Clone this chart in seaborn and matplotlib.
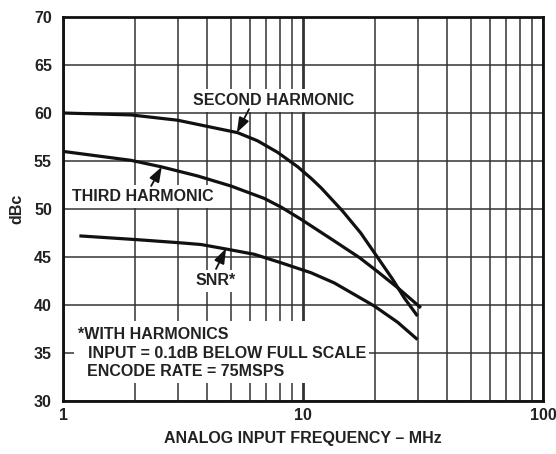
import matplotlib
matplotlib.use("Agg")
import matplotlib.pyplot as plt
import matplotlib.ticker as mticker
from matplotlib.patches import Rectangle
import seaborn as sns
import pandas as pd

# ---- data ----
second_freq = [1, 1.92, 3, 4, 5.34, 6.47, 7.84, 9.5, 10.8, 11.9, 14.6, 17.4, 20.4, 23.6, 26.4, 30]
second_dbc = [60.0, 59.8, 59.25, 58.6, 57.95, 57.1, 55.9, 54.4, 53.2, 52.2, 49.8, 47.5, 45.0, 42.7, 40.75, 38.85]

third_freq = [1, 1.92, 2.56, 3.64, 5.0, 6.9, 8.1, 9.81, 13.5, 17.2, 20.4, 24.8, 31]
third_dbc = [56.0, 55.07, 54.4, 53.44, 52.4, 51.1, 50.2, 48.93, 46.67, 44.93, 43.5, 41.8, 39.7]

snr_freq = [1.17, 2.05, 3, 3.76, 4.86, 6.27, 8.1, 10.8, 13.5, 19.8, 24.8, 30]
snr_dbc = [47.2, 46.8, 46.5, 46.3, 45.8, 45.28, 44.4, 43.36, 42.3, 39.9, 38.2, 36.4]

series_names = ["SECOND HARMONIC", "THIRD HARMONIC", "SNR*"]
x_ticks = [1, 10, 100]
x_ticklabels = ["1", "10", "100"]
y_ticks = [30, 35, 40, 45, 50, 55, 60, 65, 70]

df = pd.concat([
    pd.DataFrame({"freq": second_freq, "dbc": second_dbc, "series": series_names[0]}),
    pd.DataFrame({"freq": third_freq, "dbc": third_dbc, "series": series_names[1]}),
    pd.DataFrame({"freq": snr_freq, "dbc": snr_dbc, "series": series_names[2]}),
], ignore_index=True)

sns.set_style("white")
plt.rcParams["font.family"] = ["Liberation Sans", "DejaVu Sans"]
plt.rcParams["font.weight"] = "bold"

fig = plt.figure(figsize=(5.56, 4.54), dpi=100)
ax = fig.add_axes([63 / 556, 1 - 401 / 454, 480 / 556, 384 / 454])

sns.lineplot(data=df, x="freq", y="dbc", hue="series", units="series",
             estimator=None, sort=False, palette=["#111111"] * 3,
             linewidth=2.3, legend=False, ax=ax, zorder=5)
for ln in ax.lines:
    ln.set_solid_joinstyle("round")
    ln.set_solid_capstyle("butt")

ax.set_xscale("log")
ax.set_xlim(1, 100)
ax.set_ylim(30, 70)
ax.xaxis.set_major_locator(mticker.FixedLocator(x_ticks))
ax.xaxis.set_major_formatter(mticker.FixedFormatter(x_ticklabels))
ax.xaxis.set_minor_locator(mticker.LogLocator(base=10, subs=range(2, 10)))
ax.xaxis.set_minor_formatter(mticker.NullFormatter())
ax.set_yticks(y_ticks)

grid_c = "#333333"
ax.xaxis.grid(True, which="major", color=grid_c, lw=2.0)
ax.xaxis.grid(True, which="minor", color=grid_c, lw=1.1)
ax.yaxis.grid(True, which="major", color=grid_c, lw=1.1)
ax.set_axisbelow(True)

for s in ax.spines.values():
    s.set_color("#111111")
    s.set_linewidth(2.0)
    s.set_zorder(6)

ax.tick_params(axis="both", which="both", length=0, labelsize=11.5, colors="#222222")
ax.tick_params(axis="y", pad=8)
ax.tick_params(axis="x", pad=5)
for lab in ax.get_xticklabels() + ax.get_yticklabels():
    lab.set_fontweight("bold")

ax.set_xlabel("ANALOG INPUT FREQUENCY – MHz", fontsize=11.5, fontweight="bold", color="#222222")
ax.set_ylabel("dBc", fontsize=11.5, fontweight="bold", color="#222222")
ax.xaxis.set_label_coords(0.5, -0.077)
ax.yaxis.set_label_coords(-0.081, 0.5)

box = dict(boxstyle="square,pad=0.25", fc="white", ec="none")
tkw = dict(fontsize=11.5, fontweight="bold", color="#222222", zorder=4)
ax.text(7.55, 61.35, "SECOND HARMONIC", ha="center", va="center", bbox=box, **tkw)
ax.text(2.16, 51.27, "THIRD HARMONIC", ha="center", va="center", bbox=box, **tkw)
ax.text(4.34, 42.5, "SNR*", ha="center", va="center", bbox=box, **tkw)

ax.add_patch(Rectangle((1.11, 31.85), 18.9 - 1.11, 38.33 - 31.85,
                       fc="white", ec="none", zorder=3))
ax.text(1.151, 36.875, "*WITH HARMONICS", ha="left", va="center", **tkw)
ax.text(1.27, 34.9, "INPUT = 0.1dB BELOW FULL SCALE", ha="left", va="center", **tkw)
ax.text(1.255, 33.1, "ENCODE RATE = 75MSPS", ha="left", va="center", **tkw)

akw = dict(arrowstyle="-|>,head_length=0.9,head_width=0.32", color="#111111", lw=1.3,
           shrinkA=0, shrinkB=0)
ax.annotate("", xy=(5.3, 57.95), xytext=(5.96, 60.4), arrowprops=akw, zorder=6)
ax.annotate("", xy=(2.58, 54.4), xytext=(2.33, 52.4), arrowprops=akw, zorder=6)
ax.annotate("", xy=(4.78, 45.9), xytext=(4.34, 43.75), arrowprops=akw, zorder=6)

fig.savefig("out.png", dpi=100, facecolor="white")
